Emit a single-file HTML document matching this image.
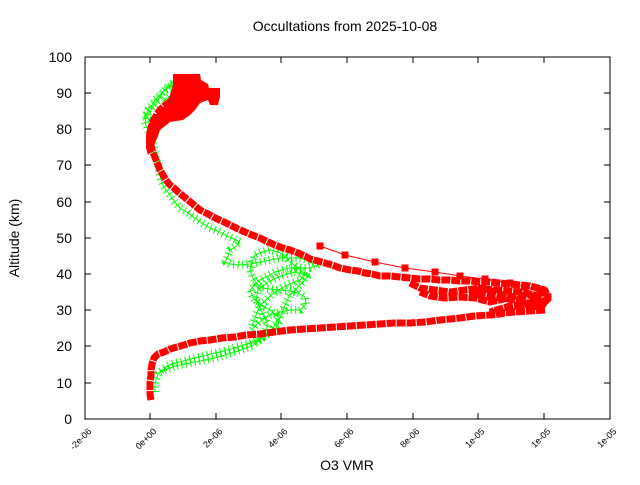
<!DOCTYPE html>
<html><head><meta charset="utf-8"><style>
body{margin:0;background:#fff;}
text{font-family:"Liberation Sans",sans-serif;}
</style></head><body>
<svg width="640" height="480" viewBox="0 0 640 480" xmlns="http://www.w3.org/2000/svg">
<defs>
<marker id="sq" markerWidth="8" markerHeight="8" refX="4" refY="4" markerUnits="userSpaceOnUse"><rect x="0.5" y="0.5" width="7" height="7" fill="#f00"/></marker>
<polyline id="g1" points="155,392 155,386 156,380 158,374 162,370 166,367 172,364 180,362 190,359 200,357 210,354 220,352 230,349 240,346 250,343 258,340 265,337 270,333 275,330 278,325 280,320 276,315 270,310 262,305 255,300 252,295 250,290 255,285 260,280 268,276 275,272 282,270 290,268 300,268 310,268 320,264 310,261 300,258 290,258 280,258 270,260 260,262 250,264 240,265 230,264 225,262 228,256 230,250 236,246 240,242 232,238 225,235 218,231 210,228 202,223 195,218 188,213 180,208 175,202 170,195 166,190 163,185 161,180 160,175 159,170 158,165 156,158 155,150 153,143 150,135 147,128 145,122 146,116 148,110 152,105 155,100 160,95 165,90 170,87 175,85 172,82 170,80"/>
<polyline id="g2" points="252,330 256,325 262,320 270,315 280,312 290,310 300,310 306,304 305,297 298,293 290,291 280,290 270,289 262,288 256,283 252,276 250,270 252,262 255,255 262,252 270,250 278,252 285,256 290,262 295,266 300,270 305,275 300,280 292,283 285,286 275,292 268,298 262,304 258,310 255,318 252,326"/>
<polyline id="g3" points="160,372 175,366 195,362 215,358 235,352 252,346 262,338 268,325 262,312 256,300 258,290 268,282 280,276 295,272 308,276 300,285 290,295 285,305 280,318 270,332 255,342"/>
<polyline id="g4" points="150,120 146,118 144,116 150,112 152,108 158,100 163,92 168,86 176,84 178,90 170,96 162,102"/>
</defs>
<rect x="85" y="57" width="525" height="362" fill="none" stroke="#000" stroke-width="1"/>
<g stroke="#000" stroke-width="1">
<path d="M85 419v-6M150 419v-6M216 419v-6M281 419v-6M347 419v-6M413 419v-6M478 419v-6M544 419v-6M610 419v-6M85 57v6M150 57v6M216 57v6M281 57v6M347 57v6M413 57v6M478 57v6M544 57v6"/>
<path d="M85 419h6M85 383h6M85 346h6M85 310h6M85 274h6M85 238h6M85 202h6M85 165h6M85 129h6M85 93h6M85 57h6M610 383h-6M610 346h-6M610 310h-6M610 274h-6M610 238h-6M610 202h-6M610 165h-6M610 129h-6M610 93h-6"/>
</g>
<g font-size="14" text-anchor="end">
<text x="72" y="424">0</text><text x="72" y="388">10</text><text x="72" y="351">20</text><text x="72" y="315">30</text><text x="72" y="279">40</text><text x="72" y="243">50</text><text x="72" y="207">60</text><text x="72" y="170">70</text><text x="72" y="134">80</text><text x="72" y="98">90</text><text x="72" y="62">100</text>
</g>
<g font-size="9" text-anchor="end">
<text transform="translate(92,432) rotate(-45)">-2e-06</text>
<text transform="translate(157,432) rotate(-45)">0e+00</text>
<text transform="translate(223,432) rotate(-45)">2e-06</text>
<text transform="translate(288,432) rotate(-45)">4e-06</text>
<text transform="translate(354,432) rotate(-45)">6e-06</text>
<text transform="translate(420,432) rotate(-45)">8e-06</text>
<text transform="translate(485,432) rotate(-45)">1e-05</text>
<text transform="translate(551,432) rotate(-45)">1e-05</text>
<text transform="translate(617,432) rotate(-45)">1e-05</text>
</g>
<text x="345" y="31" font-size="14" text-anchor="middle">Occultations from 2025-10-08</text>
<text x="347" y="470" font-size="14" text-anchor="middle">O3 VMR</text>
<text transform="translate(19,238) rotate(-90)" font-size="14" text-anchor="middle">Altitude (km)</text>
<g fill="none" stroke="#0f0" stroke-width="1" stroke-linejoin="bevel">
<use href="#g1"/><use href="#g2"/><use href="#g3"/><use href="#g4"/>
</g>
<g fill="none" stroke="#0f0" stroke-width="8" stroke-dasharray="1 3.5" stroke-linejoin="bevel">
<use href="#g1"/><use href="#g2"/><use href="#g3"/><use href="#g4"/>
</g>
<g fill="none" stroke="#f00" stroke-width="7" stroke-linejoin="bevel" stroke-dasharray="9 1">
<polyline points="151,400 150,394 150,388 150,382 151,376 151,370 152,364 154,358 158,354 164,352 170,349 177,347 184,345 190,343 200,341 210,340 222,338 235,337 246,335 260,334 274,332 290,330 305,329 320,328 335,327 350,326 365,325 380,324 395,323 410,323 425,322 440,320 450,319 460,318 475,316 490,315 500,314 505,313 512,312 520,310 528,308 535,306 540,304 545,302 548,299 548,296 546,293 545,290 538,288 530,286 520,285 510,284 500,283 490,282 480,282 470,281 460,281 450,280 440,280 430,279 420,279 410,278 400,277 390,276 380,276 372,274 365,273 358,271 350,270 340,268 332,265 325,263 318,261 310,259 305,256 298,253 290,250 283,248 275,245 268,242 260,238 252,235 245,232 238,229 230,225 222,221 215,218 208,214 200,210 194,205 188,200 183,196 178,192 174,188 170,185 166,180 163,175 160,170 158,165 156,160 154,155 152,150 151,145 150,140 150,135 151,130 152,125 153,121 155,118 157,114 160,110 164,106 168,103 172,100 175,97 179,93 182,90 186,87 190,85 193,82 195,80"/>
<polyline points="410,283 420,288 435,290 450,292 465,290 480,288 495,292 510,298 525,304 540,300 530,295 515,296 500,300 490,302 475,298 460,297 445,298 430,296 420,292"/>
<polyline points="545,310 530,311 515,312 500,313 490,312 510,306 530,303 545,305 540,296 520,292 500,290 480,289 470,294 490,297 520,300 540,308"/>
</g>
<polygon fill="#f00" points="173,74 200,74 201,80 208,84 209,88 220,88 220,97 218,105 210,105 208,100 200,103 195,110 190,115 183,120 170,122 165,126 160,130 158,136 155,143 152,150 148,155 146,148 146,135 148,125 155,115 163,108 168,100 170,95 173,85"/>
<g fill="none" stroke="#f00" stroke-width="1" marker-start="url(#sq)" marker-mid="url(#sq)" marker-end="url(#sq)">
<polyline points="320,246 345,255 375,262 405,268 435,272 460,276 485,279 510,283 525,287 540,290 545,293 548,297"/>
</g>
</svg>
</body></html>
